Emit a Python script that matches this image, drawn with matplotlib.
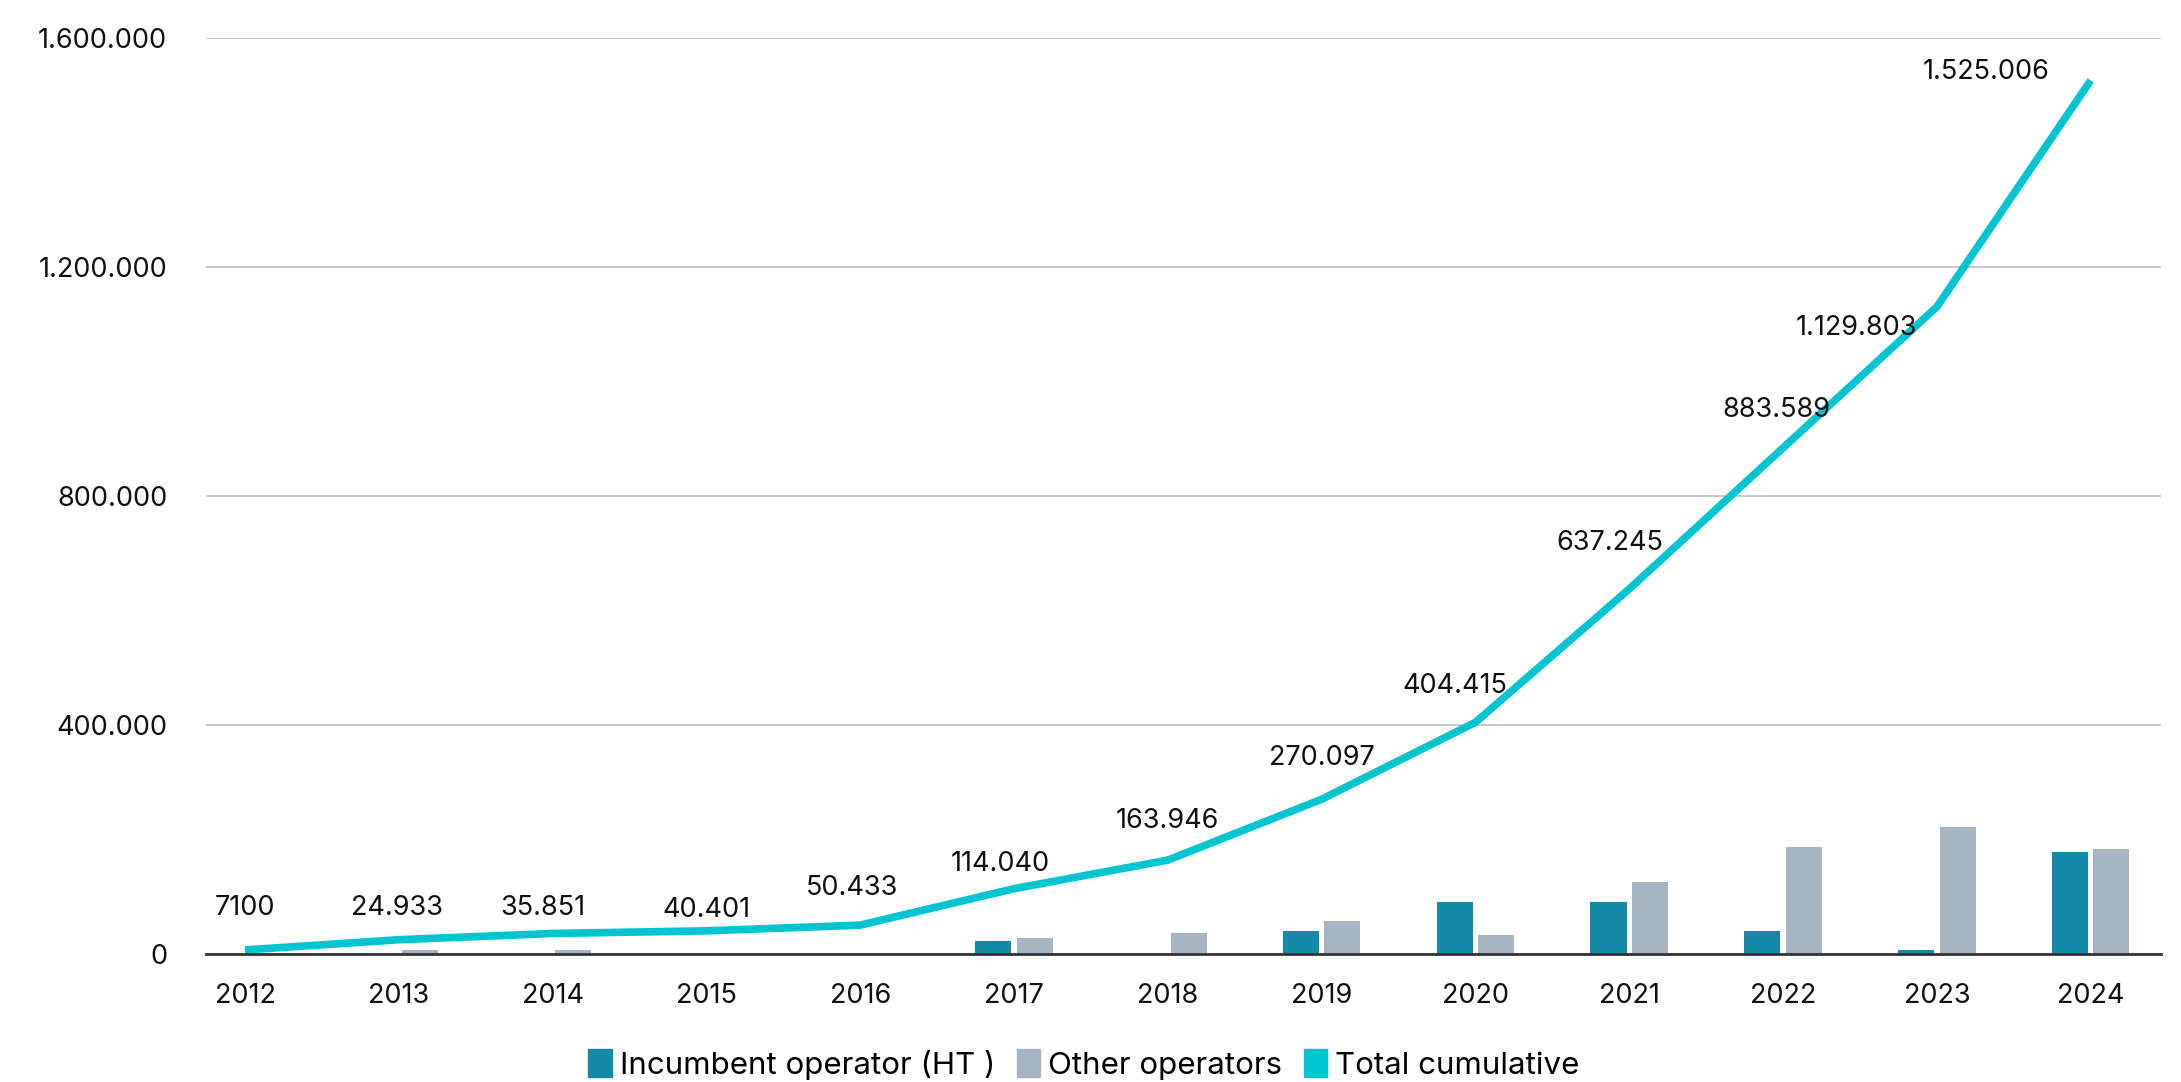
import matplotlib.pyplot as plt
import numpy as np
from matplotlib.patches import Patch
from matplotlib.ticker import FuncFormatter

plt.rcParams.update({
    'font.family': ['Inter', 'DejaVu Sans'],
    'font.size': 18,
})

years = ['2012', '2013', '2014', '2015', '2016', '2017', '2018',
         '2019', '2020', '2021', '2022', '2023', '2024']
incumbent = [0, 0, 0, 0, 0, 22000, 0, 41000, 90000, 90000, 40000, 6500, 178000]
others = [0, 7500, 7500, 0, 0, 28000, 36000, 57000, 34000, 125000, 186000, 221000, 184000]
total = [7100, 24933, 35851, 40401, 50433, 114040, 163946,
         270097, 404415, 637245, 883589, 1129803, 1525006]
total_labels = ['7100', '24.933', '35.851', '40.401', '50.433', '114.040', '163.946',
                '270.097', '404.415', '637.245', '883.589', '1.129.803', '1.525.006']
# label offsets in points (dx, dy) relative to each point
label_offsets = [(0, 30), (-1, 23), (-7, 18), (0, 15), (-6, 27), (-10, 18), (0, 28),
                 (0, 30), (-15, 26), (-14, 33), (-5, 27), (-58, -15), (-75, 6)]

c_inc = '#1589a8'
c_oth = '#a7b5c2'
c_tot = '#00c5d1'

fig = plt.figure(figsize=(21.81, 10.82), dpi=100)
ax = fig.add_axes([0.0945, 0.1183, 0.8965, 0.847])

x = np.arange(len(years))
w = 0.235
ax.bar(x - 0.135, incumbent, w, color=c_inc, zorder=2)
ax.bar(x + 0.135, others, w, color=c_oth, zorder=2)
ax.plot(x, total, color=c_tot, lw=5.5, solid_capstyle='butt', zorder=3)

for xi, v, lab, (dx, dy) in zip(x, total, total_labels, label_offsets):
    ax.annotate(lab, (xi, v), xytext=(dx, dy), textcoords='offset points',
                ha='center', va='center', fontsize=19.5, color='#111111')

ax.set_xlim(-0.253, 12.46)
ax.set_ylim(0, 1600000)
ax.set_yticks([0, 400000, 800000, 1200000, 1600000])
ax.yaxis.set_major_formatter(FuncFormatter(lambda v, p: f'{int(v):,}'.replace(',', '.')))
ax.set_xticks(x)
ax.set_xticklabels(years)
ax.tick_params(axis='both', length=0, labelsize=19.5, colors='#111111')
ax.tick_params(axis='y', pad=28)
ax.tick_params(axis='x', pad=21)

ax.grid(axis='y', color='#bfbfbf', lw=1.2, zorder=0)
ax.set_axisbelow(True)
for s in ['top', 'right', 'left']:
    ax.spines[s].set_visible(False)
ax.spines['bottom'].set_color('#333333')
ax.spines['bottom'].set_linewidth(2)
ax.spines['bottom'].set_zorder(4)

handles = [Patch(color=c_inc, label='Incumbent operator (HT )'),
           Patch(color=c_oth, label='Other operators'),
           Patch(color=c_tot, label='Total cumulative')]
fig.legend(handles=handles, loc='center', bbox_to_anchor=(0.497, 0.016), ncol=3,
           frameon=False, fontsize=22.5, handlelength=0.75, handleheight=1.0,
           handletextpad=0.25, columnspacing=0.7)

fig.savefig('out.png', dpi=100)
